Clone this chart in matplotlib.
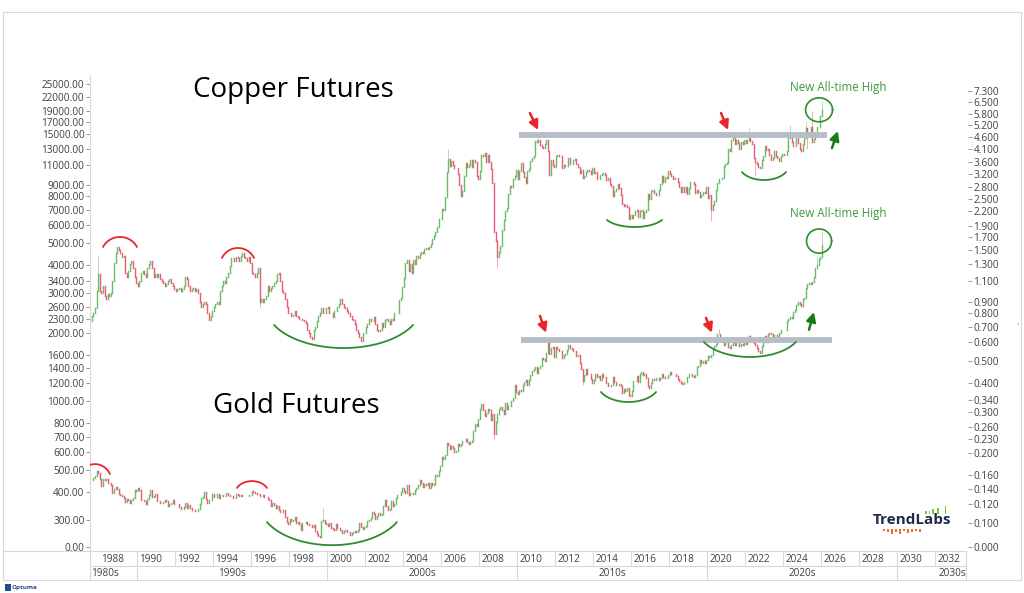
import numpy as np
import matplotlib
matplotlib.use("Agg")
import matplotlib.pyplot as plt
from matplotlib.ticker import FixedLocator, FixedFormatter, NullLocator
from matplotlib.transforms import blended_transform_factory
from matplotlib.patches import Rectangle
from matplotlib.lines import Line2D
from matplotlib.colors import to_rgba

plt.rcParams['font.family'] = ['Open Sans', 'DejaVu Sans']

# ---------------------------------------------------------------- data
START = (1987, 8)   # first monthly candle: Aug 1987

copper_first_open = 0.74
copper_close = [
    0.78, 0.80, 0.84, 1.00, 1.18,                                       # 1987 Aug-Dec
    1.00, 0.98, 1.05, 0.95, 0.92, 0.97, 0.95, 0.98, 1.10, 1.32, 1.45, 1.55,  # 1988
    1.50, 1.45, 1.40, 1.42, 1.20, 1.15, 1.22, 1.30, 1.35, 1.25, 1.15, 1.08,  # 1989
    1.05, 1.10, 1.20, 1.22, 1.18, 1.15, 1.25, 1.30, 1.35, 1.25, 1.15, 1.18,  # 1990
    1.15, 1.18, 1.12, 1.10, 1.08, 1.05, 1.07, 1.10, 1.12, 1.08, 1.05, 1.02,  # 1991
    1.00, 1.02, 1.03, 1.00, 1.02, 1.05, 1.15, 1.12, 1.05, 1.00, 1.02, 1.03,  # 1992
    1.00, 1.02, 0.98, 0.90, 0.85, 0.88, 0.90, 0.88, 0.80, 0.75, 0.78, 0.82,  # 1993
    0.85, 0.88, 0.90, 0.88, 1.00, 1.05, 1.10, 1.08, 1.15, 1.20, 1.28, 1.38,  # 1994
    1.38, 1.35, 1.40, 1.38, 1.35, 1.42, 1.45, 1.40, 1.38, 1.35, 1.40, 1.32,  # 1995
    1.20, 1.18, 1.15, 1.20, 1.25, 0.90, 0.92, 0.90, 0.92, 0.95, 1.05, 1.00,  # 1996
    1.03, 1.05, 1.08, 1.10, 1.18, 1.20, 1.10, 1.00, 0.98, 0.92, 0.85, 0.80,  # 1997
    0.80, 0.78, 0.79, 0.82, 0.78, 0.77, 0.76, 0.76, 0.75, 0.74, 0.73, 0.68,  # 1998
    0.66, 0.63, 0.62, 0.68, 0.70, 0.74, 0.78, 0.80, 0.84, 0.80, 0.80, 0.84,  # 1999
    0.85, 0.80, 0.80, 0.77, 0.82, 0.82, 0.85, 0.88, 0.92, 0.88, 0.85, 0.84,  # 2000
    0.82, 0.80, 0.78, 0.76, 0.75, 0.72, 0.68, 0.66, 0.63, 0.61, 0.66, 0.66,  # 2001
    0.70, 0.72, 0.76, 0.74, 0.74, 0.77, 0.72, 0.68, 0.67, 0.68, 0.73, 0.70,  # 2002
    0.75, 0.76, 0.74, 0.72, 0.76, 0.75, 0.80, 0.80, 0.80, 0.91, 0.93, 1.04,  # 2003
    1.14, 1.32, 1.36, 1.22, 1.30, 1.20, 1.36, 1.31, 1.41, 1.38, 1.44, 1.47,  # 2004
    1.45, 1.52, 1.53, 1.52, 1.55, 1.60, 1.67, 1.73, 1.79, 1.88, 2.04, 2.05,  # 2005
    2.26, 2.24, 2.55, 3.26, 3.69, 3.45, 3.64, 3.50, 3.40, 3.38, 3.18, 2.87,  # 2006
    2.56, 2.70, 3.12, 3.57, 3.42, 3.48, 3.65, 3.43, 3.65, 3.60, 3.14, 3.03,  # 2007
    3.29, 3.84, 3.83, 3.95, 3.58, 3.86, 3.58, 3.34, 2.91, 1.80, 1.64, 1.40,  # 2008
    1.47, 1.56, 1.83, 2.03, 2.20, 2.27, 2.63, 2.83, 2.80, 3.04, 3.14, 3.33,  # 2009
    3.03, 3.28, 3.55, 3.27, 3.09, 2.93, 3.28, 3.34, 3.64, 3.74, 3.82, 4.44,  # 2010
    4.40, 4.48, 4.27, 4.18, 4.14, 4.28, 4.47, 4.02, 3.15, 3.66, 3.48, 3.43,  # 2011
    3.80, 3.87, 3.83, 3.80, 3.39, 3.49, 3.44, 3.46, 3.75, 3.53, 3.52, 3.65,  # 2012
    3.71, 3.53, 3.42, 3.21, 3.32, 3.06, 3.13, 3.25, 3.32, 3.30, 3.18, 3.40,  # 2013
    3.23, 3.25, 3.04, 3.03, 3.16, 3.19, 3.23, 3.17, 3.02, 3.06, 2.89, 2.83,  # 2014
    2.56, 2.69, 2.76, 2.90, 2.77, 2.60, 2.36, 2.32, 2.34, 2.31, 2.04, 2.13,  # 2015
    2.06, 2.13, 2.20, 2.24, 2.08, 2.21, 2.23, 2.07, 2.19, 2.23, 2.63, 2.50,  # 2016
    2.69, 2.71, 2.65, 2.58, 2.58, 2.71, 2.89, 3.12, 2.94, 3.10, 3.07, 3.30,  # 2017
    3.20, 3.13, 3.03, 3.07, 3.08, 2.96, 2.80, 2.68, 2.81, 2.68, 2.80, 2.63,  # 2018
    2.78, 2.95, 2.94, 2.90, 2.65, 2.71, 2.67, 2.55, 2.59, 2.67, 2.65, 2.80,  # 2019
    2.52, 2.58, 2.23, 2.35, 2.43, 2.73, 2.91, 3.05, 3.03, 3.07, 3.47, 3.52,  # 2020
    3.55, 4.09, 4.01, 4.48, 4.65, 4.28, 4.47, 4.33, 4.09, 4.37, 4.31, 4.46,  # 2021
    4.33, 4.47, 4.73, 4.41, 4.29, 3.75, 3.58, 3.51, 3.41, 3.40, 3.68, 3.81,  # 2022
    4.21, 4.06, 4.10, 3.86, 3.67, 3.76, 4.00, 3.81, 3.73, 3.64, 3.82, 3.89,  # 2023
    3.86, 3.87, 4.02, 4.56, 4.68, 4.38, 4.20, 4.20, 4.56, 4.36, 4.09, 4.03,  # 2024
    4.30, 4.55, 5.03, 4.68, 4.65, 5.08, 4.40, 4.50, 4.85, 5.10, 5.08, 5.70,  # 2025
    6.00,                                                                # 2026 Jan
]
copper_high_spikes = {'1987-12': 1.42, '2006-05': 4.08, '2011-02': 4.65, '2021-05': 4.90,
                      '2022-03': 5.02, '2024-05': 5.20, '2025-03': 5.37, '2025-07': 5.96,
                      '2026-01': 6.60}
copper_low_spikes = {'1996-06': 0.85, '2008-12': 1.26, '2020-03': 2.01, '2022-07': 3.13,
                     '2025-04': 4.10}

gold_first_open = 450
gold_close = [
    453, 460, 468, 492, 486,                                            # 1987 Aug-Dec
    458, 426, 457, 451, 455, 437, 437, 430, 397, 412, 422, 410,          # 1988
    392, 388, 383, 377, 361, 373, 368, 359, 367, 376, 409, 402,          # 1989
    415, 408, 369, 368, 363, 352, 372, 387, 408, 380, 384, 391,          # 1990
    366, 363, 356, 357, 361, 368, 363, 348, 355, 358, 367, 354,          # 1991
    353, 353, 343, 337, 337, 343, 357, 341, 349, 338, 334, 333,          # 1992
    331, 328, 337, 355, 377, 378, 401, 372, 356, 369, 370, 391,          # 1993
    381, 381, 391, 376, 387, 388, 384, 385, 394, 389, 384, 383,          # 1994
    375, 376, 392, 389, 385, 387, 383, 383, 384, 383, 387, 387,          # 1995
    405, 400, 396, 392, 390, 382, 385, 387, 379, 379, 371, 369,          # 1996
    345, 358, 349, 340, 345, 334, 326, 325, 332, 311, 296, 290,          # 1997
    304, 297, 301, 310, 293, 296, 288, 273, 293, 292, 294, 288,          # 1998
    287, 287, 280, 286, 268, 262, 256, 254, 299, 300, 292, 289,          # 1999
    284, 293, 278, 274, 272, 289, 276, 277, 273, 264, 270, 272,          # 2000
    266, 267, 258, 264, 267, 270, 266, 273, 293, 279, 275, 279,          # 2001
    282, 297, 302, 308, 326, 318, 305, 313, 324, 317, 319, 348,          # 2002
    368, 347, 334, 336, 364, 346, 354, 375, 388, 386, 398, 416,          # 2003
    403, 397, 427, 388, 394, 396, 391, 409, 416, 429, 453, 438,          # 2004
    422, 435, 428, 436, 418, 437, 430, 433, 473, 470, 495, 518,          # 2005
    569, 557, 584, 655, 645, 616, 634, 625, 600, 605, 647, 636,          # 2006
    652, 672, 669, 683, 660, 651, 666, 673, 744, 795, 783, 838,          # 2007
    924, 975, 917, 865, 888, 930, 914, 833, 884, 718, 816, 884,          # 2008
    928, 942, 916, 884, 980, 927, 955, 955, 1008, 1040, 1182, 1097,      # 2009
    1081, 1119, 1115, 1180, 1213, 1245, 1181, 1248, 1309, 1357, 1386, 1421,  # 2010
    1333, 1411, 1439, 1556, 1536, 1502, 1628, 1829, 1620, 1725, 1746, 1566,  # 2011
    1738, 1697, 1669, 1664, 1559, 1604, 1622, 1687, 1776, 1719, 1711, 1675,  # 2012
    1663, 1578, 1596, 1476, 1393, 1234, 1313, 1396, 1327, 1323, 1250, 1202,  # 2013
    1240, 1321, 1284, 1296, 1246, 1322, 1282, 1287, 1210, 1172, 1175, 1184,  # 2014
    1279, 1213, 1183, 1183, 1190, 1172, 1095, 1133, 1115, 1142, 1065, 1061,  # 2015
    1116, 1234, 1235, 1291, 1215, 1320, 1349, 1311, 1316, 1275, 1173, 1152,  # 2016
    1211, 1252, 1249, 1269, 1269, 1242, 1269, 1322, 1281, 1271, 1275, 1303,  # 2017
    1345, 1318, 1327, 1316, 1300, 1253, 1233, 1206, 1192, 1215, 1223, 1282,  # 2018
    1325, 1316, 1298, 1285, 1306, 1413, 1437, 1529, 1472, 1514, 1473, 1523,  # 2019
    1589, 1566, 1596, 1694, 1751, 1800, 1986, 1978, 1895, 1879, 1781, 1895,  # 2020
    1850, 1734, 1716, 1768, 1905, 1771, 1817, 1818, 1757, 1784, 1776, 1829,  # 2021
    1796, 1909, 1949, 1911, 1848, 1807, 1782, 1726, 1672, 1640, 1759, 1826,  # 2022
    1945, 1836, 1986, 1999, 1982, 1929, 1970, 1966, 1870, 1996, 2057, 2071,  # 2023
    2067, 2054, 2254, 2302, 2346, 2339, 2473, 2536, 2659, 2749, 2681, 2641,  # 2024
    2835, 2848, 3150, 3306, 3315, 3307, 3348, 3516, 3873, 4000, 4254, 4340,  # 2025
    4900,                                                                # 2026 Jan
]
gold_high_spikes = {'1987-12': 500, '1999-10': 339, '2011-09': 1920, '2020-08': 2075,
                    '2025-10': 4380, '2026-01': 5600}
gold_low_spikes = {'1999-08': 252, '2008-10': 681, '2013-06': 1180}

# axis labels
gold_ticks = [25000, 22000, 19000, 17000, 15000, 13000, 11000, 9000, 8000, 7000, 6000,
              5000, 4000, 3400, 3000, 2600, 2300, 2000, 1600, 1400, 1200, 1000, 800,
              700, 600, 500, 400, 300]
gold_floor_tick = 229.4          # position of the "0.00" label
copper_ticks = [7.3, 6.5, 5.8, 5.2, 4.6, 4.1, 3.6, 3.2, 2.8, 2.5, 2.2, 1.9, 1.7, 1.5,
                1.3, 1.1, 0.9, 0.8, 0.7, 0.6, 0.5, 0.4, 0.34, 0.3, 0.26, 0.23, 0.2,
                0.16, 0.14, 0.12, 0.1]
copper_floor_tick = 0.0788       # position of the "0.000" label
year_labels = list(range(1988, 2033, 2))
decade_labels = ['1980s', '1990s', '2000s', '2010s', '2020s', '2030s']
decade_label_x = [1988.3, 1995, 2005, 2015, 2025, 2032.9]
decade_bounds = [1990, 2000, 2010, 2020, 2030]

# annotation anchors (year, price)
copper_resistance = (2010.11, 2026.32, 4.70)
gold_resistance = (2010.21, 2026.58, 1865)
copper_tops = [(1988.21, 1990.0, 1.546, 1.708), (1994.47, 1996.16, 1.387, 1.531)]
copper_bottoms = [(1997.21, 2004.53, 0.713, 0.567), (2014.74, 2017.63, 2.022, 1.886),
                  (2021.84, 2024.16, 3.256, 3.008)]
gold_tops = [(1987.0, 1988.58, 479, 530), (1995.26, 1996.84, 416, 446)]
gold_bottoms = [(1996.84, 2003.68, 294.5, 233), (2014.42, 2017.32, 1101, 995),
                (2019.84, 2024.68, 1827, 1570)]
copper_red_arrows = [((2010.68, 5.85), (2011.11, 4.94)), ((2020.74, 5.85), (2021.11, 4.94))]
copper_green_arrow = ((2026.58, 4.13), (2026.89, 4.89))
gold_red_arrows = [((2011.21, 2382), (2011.53, 2007)), ((2019.95, 2334), (2020.26, 2007))]
gold_green_arrow = ((2025.37, 2070), (2025.63, 2476))
copper_ring = (2025.9, 0.71, 5.36, 6.80)
gold_ring = (2025.9, 0.66, 4500, 5750)

# ---------------------------------------------------------------- styling
W, H = 1024, 593
UP = '#5cb85c'
DOWN = '#e5506c'
RED = '#e8262a'
GREEN = '#2e8b2e'
DKGREEN = '#1a7a1a'
BAND = '#b7bdc7'
GRID = '#d8d8d8'
TXT = '#404040'

fig = plt.figure(figsize=(W / 100, H / 100), dpi=100)
fig.patch.set_facecolor('white')


def fx(px):
    return px / W


def fy(py):
    return 1 - py / H


ax = fig.add_axes([fx(90), fy(551), fx(968) - fx(90), fy(75) - fy(551)])
ax2 = ax.twinx()
for a in (ax, ax2):
    a.set_yscale('log')
    a.patch.set_alpha(0)
    for s in a.spines.values():
        s.set_visible(False)
ax.spines['left'].set_visible(True)
ax.spines['left'].set_color(GRID)

ax.set_xlim(1987.526, 2033.74)
ax.set_ylim(219.6, 27390)
ax2.set_ylim(0.07558, 8.53)
ax.set_xticks([])


def month_index(key):
    y, m = map(int, key.split('-'))
    return (y - START[0]) * 12 + (m - START[1])


def draw_candles(a, first_open, closes, hi_sp, lo_sp):
    c = np.asarray(closes, float)
    n = len(c)
    t = START[0] + (START[1] - 1 + np.arange(n) + 0.5) / 12
    o = np.concatenate([[first_open], c[:-1]])
    top = np.maximum(o, c)
    bot = np.minimum(o, c)
    whi = top.copy()
    wlo = bot.copy()
    for k, v in hi_sp.items():
        i = month_index(k)
        whi[i] = max(whi[i], v)
    for k, v in lo_sp.items():
        i = month_index(k)
        wlo[i] = min(wlo[i], v)
    up = c >= o
    body = [to_rgba(UP, 0.85) if u else to_rgba(DOWN, 0.85) for u in up]
    wick = [to_rgba(UP, 0.55) if u else to_rgba(DOWN, 0.55) for u in up]
    a.vlines(t, wlo, whi, colors=wick, lw=0.6, zorder=2)
    a.vlines(t, bot, top, colors=body, lw=1.05, capstyle='projecting', zorder=2)


draw_candles(ax, gold_first_open, gold_close, gold_high_spikes, gold_low_spikes)
draw_candles(ax2, copper_first_open, copper_close, copper_high_spikes, copper_low_spikes)


def arc(a, x0, x1, p_end, p_apex, color, t0=0.15 * np.pi, lw=1.3):
    half = (x1 - x0) / 2
    xc = (x0 + x1) / 2
    ra = half / np.cos(t0)
    le, la = np.log10(p_end), np.log10(p_apex)
    b = (la - le) / (1 - np.sin(t0))
    lc = la - b
    t = np.linspace(t0, np.pi - t0, 120)
    a.plot(xc + ra * np.cos(t), 10 ** (lc + b * np.sin(t)), color=color, lw=lw,
           solid_capstyle='round', zorder=4)


def ring(a, xc, rx, p_lo, p_hi, color, lw=1.2):
    t = np.linspace(0, 2 * np.pi, 200)
    l0, l1 = np.log10(p_lo), np.log10(p_hi)
    a.plot(xc + rx * np.cos(t), 10 ** ((l0 + l1) / 2 + (l1 - l0) / 2 * np.sin(t)),
           color=color, lw=lw, zorder=4)


def arrow(a, tail, head, color):
    a.annotate('', xy=head, xytext=tail,
               arrowprops=dict(arrowstyle='-|>,head_length=0.55,head_width=0.28',
                               color=color, lw=1.8, shrinkA=0, shrinkB=0),
               zorder=5)


# resistance bands
ax2.plot(copper_resistance[:2], [copper_resistance[2]] * 2, color=BAND, lw=4.2,
         solid_capstyle='butt', zorder=3)
ax.plot(gold_resistance[:2], [gold_resistance[2]] * 2, color=BAND, lw=4.2,
        solid_capstyle='butt', zorder=3)

for x0, x1, pe, pa in copper_tops:
    arc(ax2, x0, x1, pe, pa, RED)
for x0, x1, pe, pa in copper_bottoms:
    arc(ax2, x0, x1, pe, pa, GREEN)
for x0, x1, pe, pa in gold_tops:
    arc(ax, x0, x1, pe, pa, RED)
for x0, x1, pe, pa in gold_bottoms:
    arc(ax, x0, x1, pe, pa, GREEN)

for tail, head in copper_red_arrows:
    arrow(ax2, tail, head, RED)
for tail, head in gold_red_arrows:
    arrow(ax, tail, head, RED)
arrow(ax2, copper_green_arrow[0], copper_green_arrow[1], DKGREEN)
arrow(ax, gold_green_arrow[0], gold_green_arrow[1], DKGREEN)
ring(ax2, *copper_ring, GREEN)
ring(ax, *gold_ring, GREEN)

# y axes
ax.yaxis.set_major_locator(FixedLocator(gold_ticks + [gold_floor_tick]))
ax.yaxis.set_major_formatter(FixedFormatter([f'{v:.2f}' for v in gold_ticks] + ['0.00']))
ax.yaxis.set_minor_locator(NullLocator())
ax2.yaxis.set_major_locator(FixedLocator(copper_ticks + [copper_floor_tick]))
ax2.yaxis.set_major_formatter(FixedFormatter([f'{v:.3f}' for v in copper_ticks] + ['0.000']))
ax2.yaxis.set_minor_locator(NullLocator())
ax.tick_params(axis='y', direction='out', length=3, width=0.6, color='#8a8a8a',
               pad=1, labelsize=7.2, labelcolor=TXT)
ax2.tick_params(axis='y', direction='out', length=3, width=0.6, color='#8a8a8a',
                pad=1, labelsize=7.2, labelcolor=TXT)

# ---------------------------------------------------------------- time table
bt = blended_transform_factory(ax.transData, fig.transFigure)
ft = fig.transFigure


def hline(py, x0, x1):
    fig.add_artist(Line2D([fx(x0), fx(x1)], [fy(py), fy(py)], transform=ft,
                          color=GRID, lw=0.8))


def vline(px, y0, y1):
    fig.add_artist(Line2D([fx(px), fx(px)], [fy(y0), fy(y1)], transform=ft,
                          color=GRID, lw=0.8))


# outer frame
hline(12, 3, 1021)
hline(580, 3, 1021)
vline(3, 12, 580)
vline(1021, 12, 580)
hline(551, 3, 966)
hline(566, 90, 966)
vline(90, 551, 580)
vline(966, 551, 580)

for yr in year_labels:
    if yr >= 1990:
        fig.add_artist(Line2D([yr, yr], [fy(551), fy(566)], transform=bt, color=GRID, lw=0.8))
    fig.text(yr + 0.12, fy(559), str(yr), transform=bt, ha='left', va='center',
             fontsize=7.2, color=TXT)
for d in decade_bounds:
    fig.add_artist(Line2D([d, d], [fy(566), fy(580)], transform=bt, color=GRID, lw=0.8))
for lab, xv in zip(decade_labels, decade_label_x):
    fig.text(xv, fy(573), lab, transform=bt, ha='center', va='center', fontsize=7.2,
             color=TXT)

# ---------------------------------------------------------------- texts
fig.text(fx(193), fy(90), 'Copper Futures', fontsize=20, color='black', ha='left', va='center')
fig.text(fx(213), fy(406), 'Gold Futures', fontsize=20, color='black', ha='left', va='center')
fig.text(fx(790), fy(87), 'New All-time High', fontsize=8.4, color='#3a9a3a', ha='left', va='center')
fig.text(fx(790), fy(213), 'New All-time High', fontsize=8.4, color='#3a9a3a', ha='left', va='center')

# TrendLabs logo
fig.text(fx(912), fy(520), 'TrendLabs', fontsize=11, fontweight='bold', color='#1d2b45',
         ha='center', va='center')
for px_, top_ in [(925, 511), (928.5, 510.5), (932, 509), (937, 508), (944.5, 505.5)]:
    fig.add_artist(Rectangle((fx(px_), fy(514)), fx(1.6), fy(top_) - fy(514), transform=ft,
                             color='#7cbf3a', lw=0))
for px_, h_ in [(883, 2), (887, 3), (891, 5), (895, 3), (899, 5), (903, 2), (907, 4),
                (911, 3), (915, 2), (919, 3)]:
    fig.add_artist(Rectangle((fx(px_), fy(529 + h_)), fx(1.6), fy(529) - fy(529 + h_),
                             transform=ft, color='#f26a2e', lw=0))

# Optuma mark
fig.add_artist(Rectangle((fx(5), fy(591)), fx(6), fy(584) - fy(591), transform=ft,
                         color='#1f4e8c', lw=0))
fig.text(fx(12), fy(587.5), 'Optuma', fontsize=4.5, color='#1f4e8c', ha='left',
         va='center', fontweight='bold')
fig.text(fx(1018), fy(325), '‹', fontsize=6, color='#9a9a9a', ha='center', va='center')

fig.savefig('out.png', dpi=100)
